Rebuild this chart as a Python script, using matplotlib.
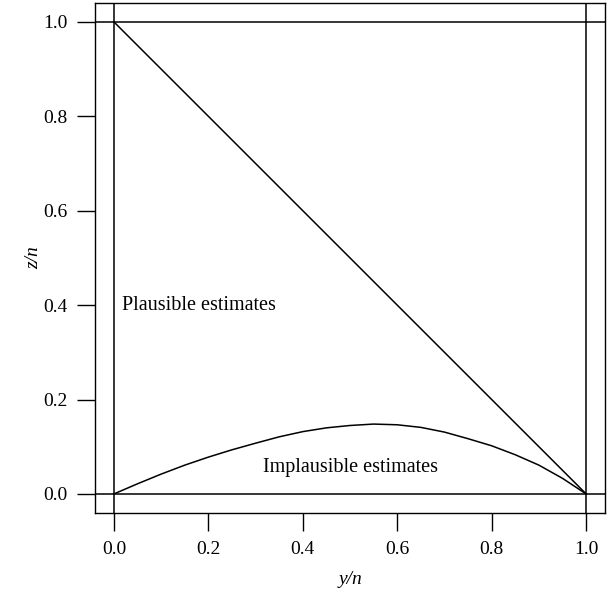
import matplotlib
matplotlib.use('Agg')
import matplotlib.pyplot as plt

plt.rcParams['font.family'] = ['Liberation Serif', 'DejaVu Serif']

# Boundary curve (z/n against y/n)
curve_x = [0.0, 0.05, 0.1, 0.15, 0.2, 0.25, 0.3, 0.35, 0.4, 0.45, 0.5,
           0.55, 0.6, 0.65, 0.7, 0.75, 0.8, 0.85, 0.9, 0.95, 1.0]
curve_y = [0.0, 0.0215, 0.042, 0.061, 0.078, 0.0935, 0.1075, 0.121, 0.132, 0.140, 0.145,
           0.148, 0.1465, 0.141, 0.131, 0.117, 0.102, 0.083, 0.061, 0.033, 0.0]

diag_x = [0.0, 1.0]
diag_y = [1.0, 0.0]

ticks = [0.0, 0.2, 0.4, 0.6, 0.8, 1.0]
tick_labels = ['0.0', '0.2', '0.4', '0.6', '0.8', '1.0']

fig = plt.figure(figsize=(6.13, 5.97), dpi=100)
ax = fig.add_axes([0.155, 0.141, 0.832, 0.854])

ax.plot(curve_x, curve_y, color='black', linewidth=1.1)
ax.plot(diag_x, diag_y, color='black', linewidth=1.1)
for v in [0.0, 1.0]:
    ax.axhline(v, color='black', linewidth=1.1)
    ax.axvline(v, color='black', linewidth=1.1)

ax.text(0.018, 0.40, 'Plausible estimates', fontsize=14.5, ha='left', va='center')
ax.text(0.50, 0.057, 'Implausible estimates', fontsize=14.5, ha='center', va='center')

ax.set_xlim(-0.04, 1.04)
ax.set_ylim(-0.04, 1.04)
ax.set_xticks(ticks)
ax.set_xticklabels(tick_labels)
ax.set_yticks(ticks)
ax.set_yticklabels(tick_labels)
ax.tick_params(direction='out', length=13, width=1.0, pad=7, labelsize=14)
for s in ax.spines.values():
    s.set_linewidth(1.0)

ax.set_xlabel('y/n', fontsize=14, style='italic')
ax.set_ylabel('z/n', fontsize=14, style='italic')
ax.xaxis.set_label_coords(0.5, -0.115)
ax.yaxis.set_label_coords(-0.104, 0.5)

fig.savefig('out.png', dpi=100)
